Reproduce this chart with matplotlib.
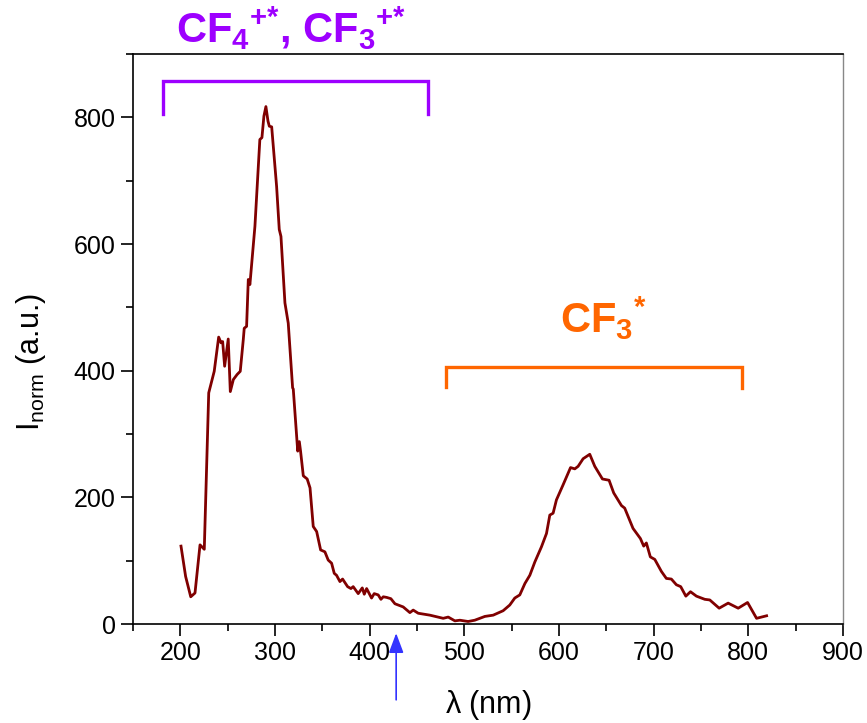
import matplotlib
matplotlib.use("Agg")
import matplotlib.pyplot as plt
from matplotlib.ticker import MultipleLocator

plt.rcParams['font.family'] = ['Liberation Sans', 'DejaVu Sans']
plt.rcParams['mathtext.fontset'] = 'custom'
plt.rcParams['mathtext.rm'] = 'Liberation Sans'
plt.rcParams['mathtext.it'] = 'Liberation Sans'
plt.rcParams['mathtext.bf'] = 'Liberation Sans:bold'

# spectrum
wavelength = [200.7, 205.6, 211, 215.5, 220.8, 225.3, 230, 235.8, 240.5, 243, 244.7,
              246.8, 250.6, 252.8, 256, 260, 263.3, 266.5, 267.5, 270, 271.8, 273.5,
              278.8, 284, 286.2, 288.3, 290.4, 292.6, 294, 296.5, 301.7, 304.5, 306.3,
              310.5, 314, 318.6, 319.3, 324, 325.7, 327, 329.9, 334, 337, 340.4, 344,
              348.2, 352.7, 356.2, 359.8, 362.6, 365, 368.6, 371.4, 376.7, 380.2, 382.6,
              387.9, 392.2, 394.3, 396.8, 402, 404.8, 409, 411.9, 414.4, 418, 422.4,
              426.7, 435.4, 442.5, 446, 451.3, 463.6, 477.7, 483, 490, 495.3, 504, 511,
              521.7, 530.5, 541, 548, 553.3, 558.6, 564, 569.2, 574.5, 581.5, 586.8,
              590.3, 593.8, 597.3, 604.4, 612.2, 616.7, 620.2, 625.5, 632.5, 637.8,
              645.9, 652.9, 657.8, 666, 669.4, 678.2, 686, 689.5, 692.3, 696.5, 701.2,
              708.2, 713.4, 718.7, 724, 728.6, 734, 738.9, 745.2, 754, 759.3, 769.2,
              778.7, 789.3, 799.2, 808.7, 819.3]
intensity = [123, 75, 43, 49, 125, 118, 365, 399, 453, 444, 446,
             407, 450, 367, 386, 394, 399, 449, 467, 470, 544, 536,
             628, 765, 768, 802, 817, 794, 786, 785, 691, 623, 612,
             507, 475, 373, 371, 273, 288, 273, 234, 229, 215, 154, 146,
             117, 114, 101, 96, 80, 77, 67, 71, 59, 56, 59,
             48, 57, 47, 56, 41, 48, 46, 39, 43, 42, 40,
             32, 27, 18, 22, 17, 14, 9, 11, 5, 6, 4, 6,
             12, 14, 21, 30, 41, 46, 64, 77, 98, 122, 143,
             172, 175, 196, 220, 247, 245, 249, 261, 268, 249,
             229, 227, 207, 187, 183, 151, 135, 123, 128, 106, 102,
             83, 72, 71, 62, 59, 44, 51, 44, 39, 38, 25,
             33, 25, 34, 9, 13]

ion_range = [182, 462]
neutral_range = [481, 793]
excitation_nm = 428

fig = plt.figure(figsize=(8.67, 7.23), dpi=100)
ax = fig.add_axes([0.1534, 0.1369, 0.8189, 0.7884])

ax.plot(wavelength, intensity, color='#800000', lw=2.0)

# brackets for the emission regions
ax.plot([ion_range[0], ion_range[0], ion_range[1], ion_range[1]], [806, 857, 857, 806],
        color='#9D00FF', lw=2.4, solid_joinstyle='miter', clip_on=False)
ax.plot([neutral_range[0], neutral_range[0], neutral_range[1], neutral_range[1]], [374, 406, 406, 373],
        color='#FF6600', lw=2.4, solid_joinstyle='miter', clip_on=False)

ax.text(195.4, 918, r'$\mathbf{CF_4{}^{{+}{*}}{,}\ CF_3{}^{{+}{*}}}$', color='#9D00FF', fontsize=30,
        ha='left', va='baseline', clip_on=False)
ax.text(601, 460, r'$\mathbf{CF_3{}^{*}}$', color='#FF6600', fontsize=30,
        ha='left', va='baseline')

ax.annotate('', xy=(excitation_nm, -0.016), xytext=(excitation_nm, -0.133),
            xycoords=ax.get_xaxis_transform(), textcoords=ax.get_xaxis_transform(),
            arrowprops=dict(arrowstyle='-|>,head_length=1.2,head_width=0.45',
                            color='#3333FF', lw=1.2, shrinkA=0, shrinkB=0),
            annotation_clip=False)

ax.set_xlim(150, 900)
ax.set_ylim(0, 900)
ax.xaxis.set_major_locator(MultipleLocator(100))
ax.xaxis.set_minor_locator(MultipleLocator(50))
ax.yaxis.set_major_locator(MultipleLocator(200))
ax.yaxis.set_minor_locator(MultipleLocator(100))
ax.tick_params(which='both', direction='out', width=1.2, top=False, right=False)
ax.tick_params(which='major', length=8.5, labelsize=18, pad=4)
ax.tick_params(which='minor', length=5)
for s in ax.spines.values():
    s.set_linewidth(1.2)
ax.spines['right'].set_color('#888888')
ax.spines['right'].set_linewidth(1.0)

ax.set_xlabel(r'$\lambda$ (nm)', fontsize=22)
ax.set_ylabel(r'$\mathrm{I_{norm}}$ (a.u.)', fontsize=22)
ax.xaxis.set_label_coords(0.5, -0.112)
ax.yaxis.set_label_coords(-0.12, 0.46)

fig.savefig('out.png', dpi=100)
